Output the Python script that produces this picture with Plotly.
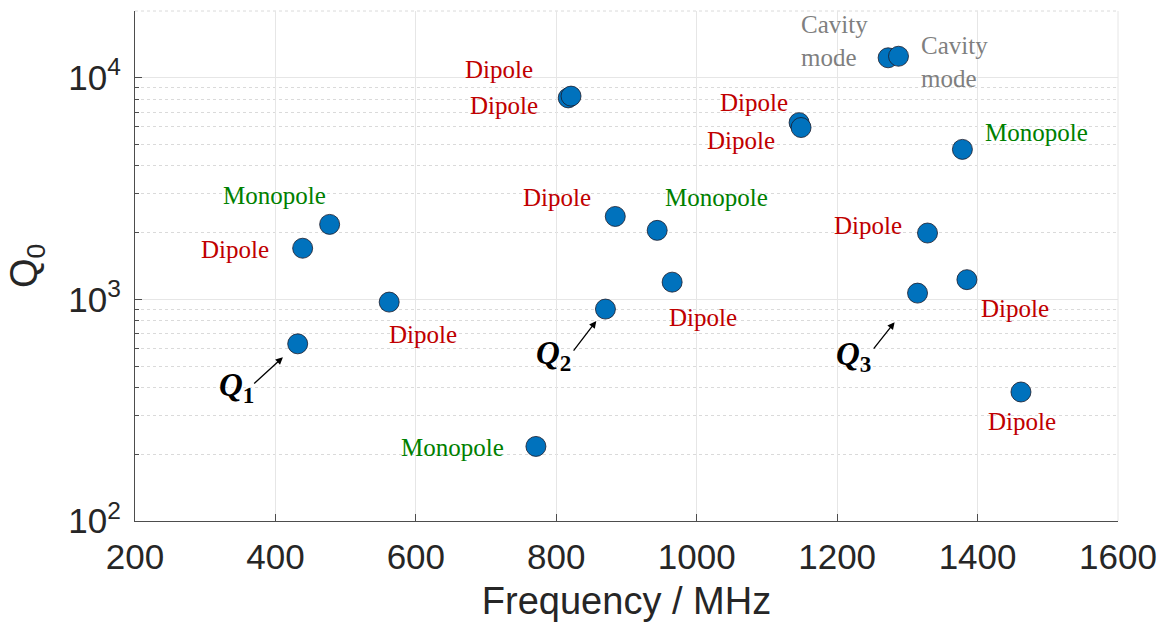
import math
import plotly.graph_objects as go

# Measured eigenmodes: frequency (MHz) and unloaded quality factor Q0
freq_mhz = [431.7, 438.8, 477.2, 562.0, 771.0, 817.0, 821.0, 870.0, 884.0, 943.7, 965.0,
            1145.8, 1148.6, 1272.6, 1287.4, 1314.5, 1328.7, 1378.4, 1384.8, 1461.8]
q0 = [630, 1701, 2179, 972, 217, 8110, 8260, 904, 2366, 2048, 1196,
      6270, 5960, 12300, 12500, 1067, 1992, 4750, 1227, 382]
mode_type = ["", "Dipole", "Monopole", "Dipole", "Monopole", "Dipole", "Dipole", "", "Dipole",
             "Monopole", "Dipole", "Dipole", "Dipole", "Cavity mode", "Cavity mode", "",
             "Dipole", "Monopole", "Dipole", "Dipole"]

# Operating modes Q1..Q3 (indices into the arrays above)
op_names = ["1", "2", "3"]
op_index = [0, 7, 15]

x_ticks = [200, 400, 600, 800, 1000, 1200, 1400, 1600]
y_ticks = [100, 1000, 10000]
y_ticktext = ["10<sup>2</sup>", "10<sup>3</sup>", "10<sup>4</sup>"]
y_minor = [m * 10 ** d for d in (2, 3, 4) for m in range(2, 10) if m * 10 ** d <= 20000]

# ---- styling / layout ----
MODE_COLORS = {"Dipole": "#C00000", "Monopole": "#008000", "Cavity mode": "#7F7F7F"}
# pixel offsets (dx right, dy down) of each mode label from its marker
LABEL_OFFSETS = [None, (-68, 1), (-55, -29), (34, 32), (-83, 1), (-64, 8), (-72, -27), None,
                 (-58, -19), (59, -33), (31, 35), (-45, -20), (-60, 13), (-54, -17), (56, 6),
                 None, (-60, -8), (74, -17), (48, 29), (1, 30)]
# operating-mode tags: text offset, arrow tail offset, arrow standoff
OP_TEXT_OFFSETS = [(-61, 44), (-52, 46), (-64, 63)]
OP_ARROW_TAILS = [(-45, 41), (-33, 43), (-45, 57)]
OP_STANDOFF = [20, 15, 37]

LABEL_FONT = "Liberation Serif"
AXIS_FONT = "Liberation Sans"
GRID = "#E6E6E6"

fig = go.Figure()
fig.add_trace(go.Scatter(
    x=freq_mhz, y=q0, mode="markers",
    marker=dict(size=20, color="#0072BD", line=dict(width=0.8, color="#1b1b2a")),
    showlegend=False, hoverinfo="x+y",
))

annotations = []
for f, q, label, off in zip(freq_mhz, q0, mode_type, LABEL_OFFSETS):
    if not label or off is None:
        continue
    annotations.append(dict(
        x=f, y=math.log10(q), xref="x", yref="y",
        text=label.replace(" ", "<br>"), showarrow=False,
        xshift=off[0], yshift=-off[1], align="left",
        font=dict(family=LABEL_FONT, size=25, color=MODE_COLORS[label]),
    ))

for name, idx, toff, tail, so in zip(op_names, op_index, OP_TEXT_OFFSETS, OP_ARROW_TAILS, OP_STANDOFF):
    f, q = freq_mhz[idx], q0[idx]
    annotations.append(dict(
        x=f, y=math.log10(q), xref="x", yref="y",
        text=f"<b><i>Q</i></b><sub><b>{name}</b></sub>", showarrow=False,
        xshift=toff[0], yshift=-toff[1],
        font=dict(family=LABEL_FONT, size=33, color="black"),
    ))
    annotations.append(dict(
        x=f, y=math.log10(q), xref="x", yref="y", text="",
        showarrow=True, ax=tail[0], ay=tail[1], axref="pixel", ayref="pixel",
        arrowhead=2, arrowsize=1.1, arrowwidth=1.3, arrowcolor="black", standoff=so,
    ))

# y-axis title
annotations.append(dict(
    x=0, y=0.5, xref="paper", yref="paper", xanchor="center", yanchor="middle",
    xshift=-108, text="Q<sub>0</sub>", showarrow=False, textangle=-90,
    font=dict(family=AXIS_FONT, size=38, color="#262626"),
))

fig.update_layout(
    width=1164, height=625,
    margin=dict(l=135, r=46, t=11, b=104, autoexpand=False),
    paper_bgcolor="white", plot_bgcolor="white",
    annotations=annotations,
    shapes=[
        # light frame edges on the open sides of the axes box
        dict(type="line", xref="paper", yref="paper", x0=1, x1=1, y0=0, y1=1,
             line=dict(color=GRID, width=1), layer="below"),
        dict(type="line", xref="paper", yref="paper", x0=0, x1=1, y0=1, y1=1,
             line=dict(color="#DADADA", width=1, dash="dot"), layer="below"),
    ],
    xaxis=dict(
        range=[200, 1600], tickvals=x_ticks, automargin=False,
        showgrid=True, gridcolor=GRID, gridwidth=1,
        showline=True, linecolor="#4D4D4D", linewidth=1.2, mirror=False,
        ticks="inside", ticklen=7, tickcolor="#4D4D4D",
        tickfont=dict(family=AXIS_FONT, size=35, color="#262626"),
        ticklabelstandoff=5,
        title=dict(text="Frequency / MHz", font=dict(family=AXIS_FONT, size=38, color="#262626"),
                   standoff=12),
        zeroline=False,
    ),
    yaxis=dict(
        type="log", range=[2, math.log10(20000)], automargin=False,
        tickvals=y_ticks, ticktext=y_ticktext,
        showgrid=True, gridcolor=GRID, gridwidth=1,
        showline=True, linecolor="#4D4D4D", linewidth=1.2, mirror=False,
        ticks="inside", ticklen=7, tickcolor="#4D4D4D",
        tickfont=dict(family=AXIS_FONT, size=35, color="#262626"),
        ticklabelstandoff=6,
        minor=dict(tickvals=y_minor, showgrid=True, gridcolor="#DADADA", griddash="dot",
                   gridwidth=1, ticks="inside", ticklen=4, tickcolor="#4D4D4D"),
        zeroline=False,
    ),
)

fig.write_html("out.html")
